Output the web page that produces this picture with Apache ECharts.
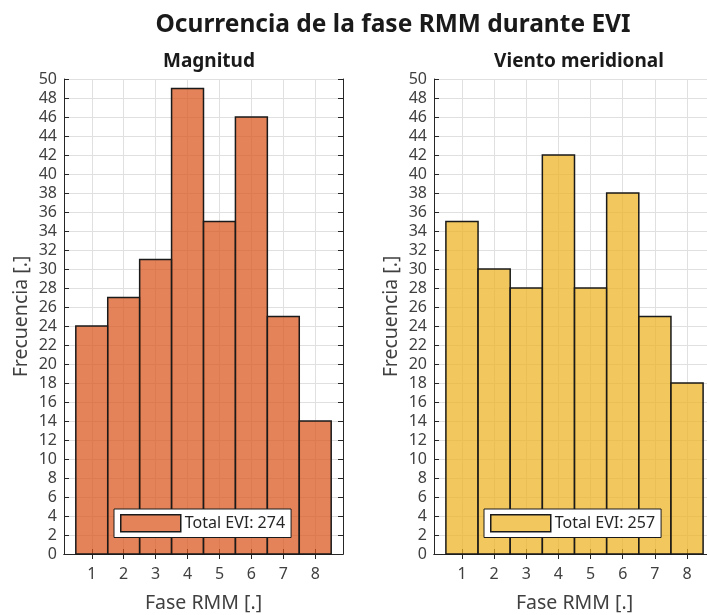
<!DOCTYPE html>
<html>
<head>
<meta charset="utf-8">
<script src="https://cdn.jsdelivr.net/npm/echarts@6/dist/echarts.min.js"></script>
<style>
  html, body { margin: 0; padding: 0; background: #fff; }
  #chart { width: 707px; height: 615px; }
</style>
</head>
<body>
<div id="chart"></div>
<script>
// RMM phases (x categories) and event counts per phase
const phases = [1, 2, 3, 4, 5, 6, 7, 8];
const magnitudCounts = [24, 27, 31, 49, 35, 46, 25, 14];
const vientoCounts = [35, 30, 28, 42, 28, 38, 25, 18];
const magnitudTotal = 274;
const vientoTotal = 257;
const yTicks = [0, 50, 2]; // min, max, step

const FONT = 'Noto Sans';
const AXIS_DARK = '#262626';
const TEXT_COL = '#404040';
const GRID_COL = '#e0e0e0';
const orangeFill = 'rgba(217, 83, 25, 0.72)';
const yellowFill = 'rgba(237, 177, 32, 0.72)';

const chart = echarts.init(document.getElementById('chart'), null, { renderer: 'canvas' });

// fixed plot boxes; the right one runs slightly past the canvas edge
const grids = [
  { left: 64, top: 79, width: 279, height: 475, outerBoundsMode: 'none', containLabel: false },
  { left: 434, top: 79, width: 281, height: 475, outerBoundsMode: 'none', containLabel: false }
];

function bottomX(gi) {
  return {
    type: 'value', gridIndex: gi, min: 0.13, max: 8.87, position: 'bottom',
    name: 'Fase RMM [.]', nameLocation: 'middle', nameGap: 39,
    nameTextStyle: { fontFamily: FONT, fontSize: 19.5, color: TEXT_COL },
    axisLine: { show: true, lineStyle: { color: AXIS_DARK, width: 1 } },
    axisTick: { show: true, inside: true, length: 5, customValues: phases, lineStyle: { color: AXIS_DARK } },
    axisLabel: { customValues: phases, fontFamily: FONT, fontSize: 16, color: TEXT_COL, margin: 12 },
    splitLine: { show: true, lineStyle: { color: GRID_COL, width: 1 } }
  };
}
function topX(gi) {
  return {
    type: 'value', gridIndex: gi, min: 0.13, max: 8.87, position: 'top',
    axisLine: { show: true, lineStyle: { color: AXIS_DARK, width: 1 } },
    axisTick: { show: true, inside: true, length: 5, customValues: phases, lineStyle: { color: AXIS_DARK } },
    axisLabel: { show: false },
    splitLine: { show: false }
  };
}
function leftY(gi) {
  return {
    type: 'value', gridIndex: gi, min: yTicks[0], max: yTicks[1], interval: yTicks[2], position: 'left',
    name: 'Frecuencia [.]', nameLocation: 'middle', nameGap: 33,
    nameTextStyle: { fontFamily: FONT, fontSize: 19.5, color: TEXT_COL },
    axisLine: { show: true, lineStyle: { color: AXIS_DARK, width: 1 } },
    axisTick: { show: true, inside: true, length: 5, lineStyle: { color: AXIS_DARK } },
    axisLabel: { fontFamily: FONT, fontSize: 16, color: TEXT_COL, margin: 7 },
    splitLine: { show: true, lineStyle: { color: GRID_COL, width: 1 } }
  };
}
function rightY(gi) {
  return {
    type: 'value', gridIndex: gi, min: yTicks[0], max: yTicks[1], interval: yTicks[2], position: 'right',
    axisLine: { show: true, lineStyle: { color: AXIS_DARK, width: 1 } },
    axisTick: { show: true, inside: true, length: 5, lineStyle: { color: AXIS_DARK } },
    axisLabel: { show: false },
    splitLine: { show: false }
  };
}

// Histogram bars: each bin spans phase +/- 0.5
function histRender(params, api) {
  const x = api.value(0);
  const y = api.value(1);
  const p0 = api.coord([x - 0.5, y]);
  const p1 = api.coord([x + 0.5, 0]);
  return {
    type: 'rect',
    shape: { x: p0[0], y: p0[1], width: p1[0] - p0[0], height: p1[1] - p0[1] },
    style: { fill: api.visual('color'), stroke: '#1a1a1a', lineWidth: 1.5 }
  };
}

function histSeries(name, gi, counts, fill) {
  return {
    type: 'custom', name: name,
    xAxisIndex: gi * 2, yAxisIndex: gi * 2,
    itemStyle: { color: fill },
    renderItem: histRender,
    data: phases.map((p, i) => [p, counts[i]]),
    z: 3
  };
}

const legendBase = {
  orient: 'horizontal', top: 509, padding: [5, 6, 5, 6],
  backgroundColor: '#fff', borderColor: '#1a1a1a', borderWidth: 1,
  itemWidth: 60, itemHeight: 17, itemGap: 4, icon: 'rect',
  textStyle: { fontFamily: FONT, fontSize: 16, color: '#262626', padding: [0, 0, 0, -1] },
  selectedMode: false, z: 10
};

const magName = 'Total EVI: ' + magnitudTotal;
const vieName = 'Total EVI: ' + vientoTotal;

chart.setOption({
  animation: false,
  backgroundColor: '#fff',
  title: [
    { text: 'Ocurrencia de la fase RMM durante EVI', left: 388, top: 8, textAlign: 'center',
      textStyle: { fontFamily: FONT, fontSize: 24.5, fontWeight: 'bold', color: '#1a1a1a' } },
    { text: 'Magnitud', left: 204, top: 47, textAlign: 'center',
      textStyle: { fontFamily: FONT, fontSize: 19, fontWeight: 'bold', color: '#1a1a1a' } },
    { text: 'Viento meridional', left: 574, top: 47, textAlign: 'center',
      textStyle: { fontFamily: FONT, fontSize: 19, fontWeight: 'bold', color: '#1a1a1a' } }
  ],
  grid: grids,
  xAxis: [bottomX(0), topX(0), bottomX(1), topX(1)],
  yAxis: [leftY(0), rightY(0), leftY(1), rightY(1)],
  legend: [
    Object.assign({}, legendBase, { left: 114, data: [{ name: magName, itemStyle: { color: orangeFill, borderColor: '#1a1a1a', borderWidth: 1.5 } }] }),
    Object.assign({}, legendBase, { left: 484, data: [{ name: vieName, itemStyle: { color: yellowFill, borderColor: '#1a1a1a', borderWidth: 1.5 } }] })
  ],
  series: [
    histSeries(magName, 0, magnitudCounts, orangeFill),
    histSeries(vieName, 1, vientoCounts, yellowFill)
  ]
});
</script>
</body>
</html>
